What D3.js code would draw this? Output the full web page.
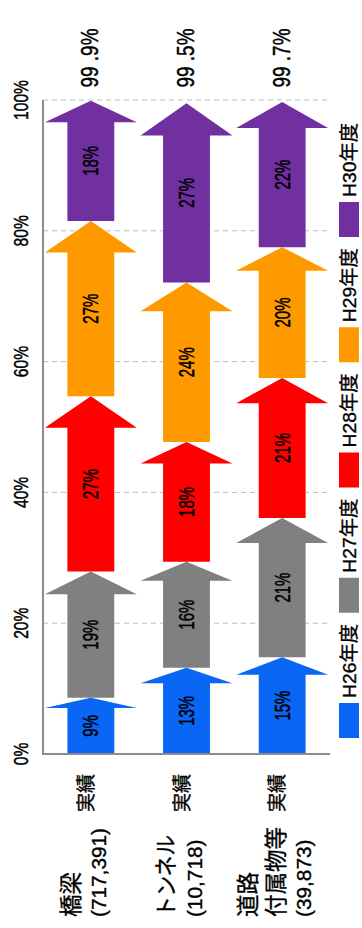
<!DOCTYPE html>
<html><head><meta charset="utf-8">
<script src="https://cdn.jsdelivr.net/npm/d3@7"></script>
<style>body{margin:0;background:#fff}svg{display:block}</style>
</head><body><svg id="chart" width="362" height="928"></svg>
<script>
const categories = ["橋梁", "トンネル", "道路付属物等"];
const categoryLines = [["橋梁", "(717,391)"], ["トンネル", "(10,718)"], ["道路", "付属物等", "(39,873)"]];
const subLabel = "実績";
const seriesNames = ["H26年度", "H27年度", "H28年度", "H29年度", "H30年度"];
const h26 = [8.6, 13.2, 14.8];
const h27 = [19.3, 16.2, 21.3];
const h28 = [26.8, 18.3, 21.4];
const h29 = [26.8, 24.4, 20.0];
const h30 = [18.4, 27.4, 22.2];
const tickValues = [0, 20, 40, 60, 80, 100];
const tickLabels = ["0%", "20%", "40%", "60%", "80%", "100%"];
const colors = ["#0a66f5", "#808080", "#ff0000", "#ff9900", "#7030a0"];

const seriesValues = [h26, h27, h28, h29, h30];
const table = categories.map((c, i) => {
  const row = {cat: c};
  seriesNames.forEach((s, k) => row[s] = seriesValues[k][i]);
  return row;
});
const stacked = d3.stack().keys(seriesNames)(table);

const FONT = "'Liberation Sans', Arial, 'Noto Sans CJK JP', sans-serif";
const svg = d3.select("#chart");
const x = d3.scaleBand().domain(categories).range([43, 330]).padding(0);
const y = d3.scaleLinear().domain([0, 100]).range([754, 100]);

// Arial-like advance widths (em) for Latin glyphs, used to fix text lengths
const adv = {"0":0.556,"1":0.556,"2":0.556,"3":0.556,"4":0.556,"5":0.556,"6":0.556,"7":0.556,"8":0.556,"9":0.556,
  "%":0.889,"(":0.333,")":0.333,",":0.278,".":0.278," ":0.278,"H":0.722};
const emWidth = s => Array.from(s).reduce((a, ch) => a + (adv[ch] !== undefined ? adv[ch] : 1), 0);

function rtext(g, px, py, txt, size, stretch, anchor, len) {
  const t = g.append("text")
    .attr("transform", `translate(${px},${py}) rotate(-90) scale(1,${stretch})`)
    .attr("text-anchor", anchor || "middle")
    .attr("dominant-baseline", "central")
    .attr("font-family", FONT)
    .attr("font-size", size)
    .attr("fill", "#000")
    .attr("stroke", "#000").attr("stroke-width", 0.35)
    .text(txt);
  const L = len || emWidth(txt) * size;
  t.attr("textLength", L).attr("lengthAdjust", "spacingAndGlyphs");
  return t;
}

// gridlines
svg.append("g").selectAll("line").data(tickValues.filter(v => v > 0)).join("line")
  .attr("x1", 43).attr("x2", 330)
  .attr("y1", d => y(d)).attr("y2", d => y(d))
  .attr("stroke", "#bdbdbd").attr("stroke-width", 1).attr("stroke-dasharray", "5,4");

// tick labels
const tg = svg.append("g");
tickValues.forEach((v, i) => rtext(tg, 21, y(v), tickLabels[i], 15.6, 1.28));

// arrows
const hwHead = 0.48, hwShaft = 0.245, headFrac = 0.18;
const ag = svg.append("g");
stacked.forEach((layer, k) => {
  layer.forEach((d, i) => {
    const cx = x(categories[i]) + x.bandwidth() / 2;
    const bw = x.bandwidth();
    const yb = y(d[0]), yt = y(d[1]);
    const hh = (yb - yt) * headFrac;
    const sw = bw * hwShaft, hw = bw * hwHead;
    const p = d3.path();
    p.moveTo(cx - sw, yb); p.lineTo(cx - sw, yt + hh); p.lineTo(cx - hw, yt + hh);
    p.lineTo(cx, yt); p.lineTo(cx + hw, yt + hh); p.lineTo(cx + sw, yt + hh);
    p.lineTo(cx + sw, yb); p.closePath();
    ag.append("path").attr("d", p.toString()).attr("fill", colors[k]);
  });
});

// axis lines
svg.append("line").attr("x1", 43).attr("x2", 43).attr("y1", y(100)).attr("y2", y(0))
  .attr("stroke", "#8c8c8c").attr("stroke-width", 2);
svg.append("line").attr("x1", 42).attr("x2", 330).attr("y1", y(0)).attr("y2", y(0))
  .attr("stroke", "#8c8c8c").attr("stroke-width", 2);

// segment labels
const lg = svg.append("g");
stacked.forEach((layer, k) => {
  layer.forEach((d, i) => {
    const cx = x(categories[i]) + x.bandwidth() / 2;
    rtext(lg, cx, (y(d[0]) + y(d[1])) / 2, Math.round(seriesValues[k][i]) + "%", 15, 1.5);
  });
});

// totals
categories.forEach((c, i) => {
  const tot = Math.round(seriesValues.reduce((s, a) => s + a[i], 0) * 10) / 10;
  const txt = tot.toFixed(1).replace(".", " .") + "%";
  rtext(lg, x(c) + x.bandwidth() / 2 - 1, 58, txt, 18, 1.37, "middle", 59);
});

// category labels
const cg = svg.append("g");
const isNum = s => /^\(/.test(s);
categories.forEach((c, i) => {
  const cx = x(c) + x.bandwidth() / 2;
  rtext(cg, cx - 5, 793, subLabel, 19.5, 1, "middle", 38);
  const lines = categoryLines[i];
  const step = 27.5;
  const start = cx - 6 - (lines.length - 1) * step / 2;
  lines.forEach((ln, j) => {
    const f = isNum(ln) ? 20.8 : 22.5;
    const len = ln === "トンネル" ? 82 : (isNum(ln) ? emWidth(ln) * f : ln.length * f);
    rtext(cg, start + j * step, 917, ln, f, 1, "start", len);
  });
});

// legend
const legG = svg.append("g");
seriesNames.forEach((s, k) => {
  const top = 703 - k * 125.25;
  legG.append("rect").attr("x", 339).attr("y", top).attr("width", 20).attr("height", 35).attr("fill", colors[k]);
  rtext(legG, 349, top - 5, s, 19, 1, "start", 74);
});
</script></body></html>
